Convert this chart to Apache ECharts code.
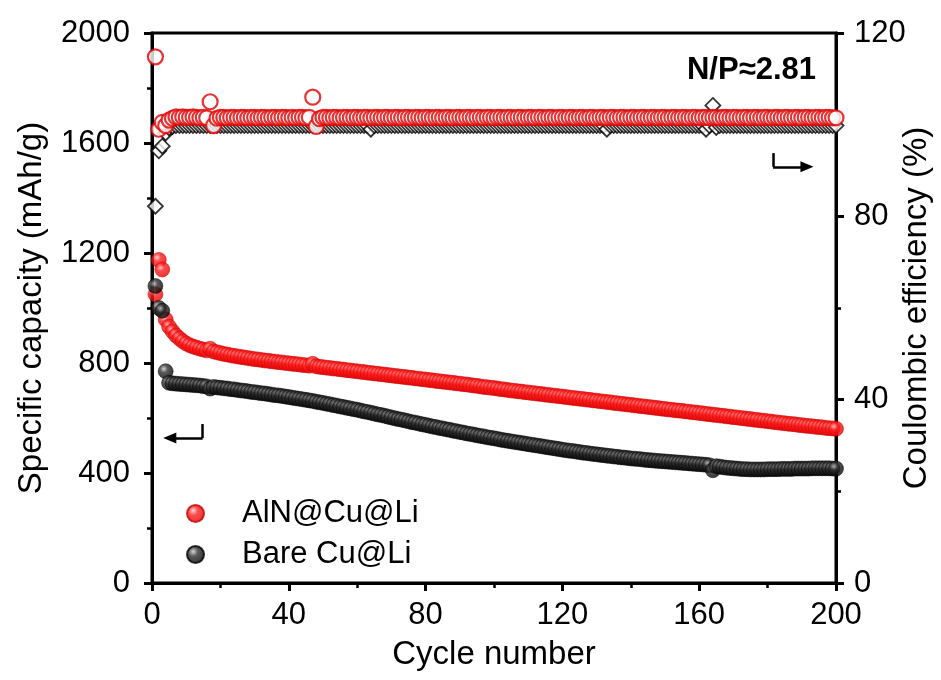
<!DOCTYPE html>
<html>
<head>
<meta charset="utf-8">
<title>AlN@Cu@Li vs Bare Cu@Li cycling</title>
<script src="https://cdn.jsdelivr.net/npm/echarts/dist/echarts.min.js"></script>
<style>
  html, body { margin: 0; padding: 0; background: #ffffff; }
  #chart { width: 941px; height: 680px; }
</style>
</head>
<body>
<div id="chart"></div>
<script>
// Specific capacity (mAh/g) per cycle, cycles 1..200
const alnCap = [
  1050, 1175, 1140, 958, 932, 915, 900, 889, 879, 871,
  865, 860, 856, 852, 849, 846, 852, 842, 839, 836,
  833, 831, 828, 826, 824, 822, 820, 818, 816, 814,
  813, 811, 809, 808, 806, 805, 803, 802, 800, 799,
  797, 796, 795, 793, 792, 790, 797, 788, 786, 785,
  783, 782, 780, 779, 777, 776, 774, 773, 771, 770,
  768, 767, 765, 764, 762, 761, 759, 758, 756, 755,
  753, 752, 750, 749, 747, 746, 744, 743, 741, 740,
  738, 737, 735, 734, 732, 731, 729, 728, 726, 725,
  723, 722, 720, 718, 717, 715, 713, 712, 710, 709,
  707, 705, 704, 702, 700, 699, 697, 696, 694, 693,
  691, 690, 688, 687, 685, 684, 682, 681, 679, 678,
  676, 675, 673, 672, 670, 669, 667, 666, 664, 663,
  661, 660, 658, 657, 655, 654, 652, 651, 649, 648,
  646, 645, 643, 642, 640, 639, 637, 636, 634, 633,
  631, 630, 628, 627, 626, 624, 623, 621, 620, 618,
  617, 615, 614, 612, 611, 609, 608, 606, 605, 603,
  602, 600, 599, 597, 596, 594, 593, 591, 590, 588,
  587, 585, 584, 582, 581, 579, 578, 577, 575, 574,
  572, 571, 570, 568, 567, 566, 564, 563, 562, 561
];
const bareCap = [
  1080, 1000, 990, 770, 728, 726, 725, 724, 723, 722,
  721, 720, 719, 718, 716, 715, 707, 713, 711, 710,
  708, 707, 705, 704, 702, 700, 699, 697, 695, 694,
  692, 690, 689, 687, 685, 683, 682, 680, 678, 676,
  674, 672, 670, 668, 666, 664, 662, 659, 657, 655,
  652, 650, 647, 645, 642, 640, 637, 635, 632, 630,
  627, 624, 622, 619, 616, 613, 611, 608, 605, 602,
  599, 596, 594, 591, 588, 585, 583, 580, 577, 575,
  572, 569, 567, 564, 562, 559, 557, 554, 552, 549,
  547, 544, 542, 540, 537, 535, 533, 530, 528, 526,
  524, 521, 519, 517, 515, 513, 511, 509, 507, 505,
  503, 501, 499, 497, 495, 493, 491, 489, 487, 485,
  483, 481, 480, 478, 476, 474, 473, 471, 469, 468,
  466, 465, 463, 462, 460, 459, 457, 456, 455, 453,
  452, 451, 450, 448, 447, 446, 445, 444, 443, 442,
  441, 440, 439, 438, 437, 436, 435, 434, 433, 432,
  431, 430, 428, 410, 425, 423, 421, 419, 418, 417,
  416, 415, 414, 414, 413, 413, 413, 413, 413, 414,
  414, 414, 414, 415, 415, 415, 415, 416, 416, 416,
  416, 416, 417, 417, 417, 417, 417, 417, 416, 416
];
// Coulombic efficiency (%) per cycle, cycles 1..200
const alnCE = [
  114.8, 99.0, 100.5, 99.8, 101.0, 101.4, 101.7, 101.6, 101.7, 101.6,
  101.6, 101.7, 101.6, 101.5, 101.6, 101.5, 105.0, 99.8, 101.4, 101.6,
  101.6, 101.5, 101.6, 101.6, 101.5, 101.6, 101.6, 101.5, 101.6, 101.6,
  101.5, 101.6, 101.6, 101.5, 101.6, 101.6, 101.5, 101.6, 101.6, 101.5,
  101.6, 101.5, 101.6, 101.6, 101.5, 101.6, 106.0, 99.6, 101.3, 101.6,
  101.6, 101.5, 101.6, 101.6, 101.5, 101.6, 101.6, 101.5, 101.6, 101.6,
  101.5, 101.6, 101.6, 101.5, 101.6, 101.6, 101.5, 101.6, 101.6, 101.5,
  101.6, 101.6, 101.5, 101.6, 101.6, 101.5, 101.6, 101.6, 101.5, 101.6,
  101.6, 101.5, 101.6, 101.6, 101.5, 101.6, 101.6, 101.5, 101.6, 101.6,
  101.5, 101.6, 101.6, 101.5, 101.6, 101.6, 101.5, 101.6, 101.6, 101.5,
  101.6, 101.6, 101.5, 101.6, 101.6, 101.5, 101.6, 101.6, 101.5, 101.6,
  101.6, 101.5, 101.6, 101.6, 101.5, 101.6, 101.6, 101.5, 101.6, 101.6,
  101.5, 101.6, 101.6, 101.5, 101.6, 101.6, 101.5, 101.6, 101.6, 101.5,
  101.6, 101.6, 101.5, 101.6, 101.6, 101.5, 101.6, 101.6, 101.5, 101.6,
  101.6, 101.5, 101.6, 101.6, 101.5, 101.6, 101.6, 101.5, 101.6, 101.6,
  101.5, 101.6, 101.6, 101.5, 101.6, 101.6, 101.5, 101.6, 101.6, 101.5,
  101.6, 101.6, 101.5, 101.6, 101.6, 101.5, 101.6, 101.6, 101.5, 101.6,
  101.6, 101.5, 101.6, 101.6, 101.5, 101.6, 101.6, 101.5, 101.6, 101.6,
  101.5, 101.6, 101.6, 101.5, 101.6, 101.6, 101.5, 101.6, 101.6, 101.5,
  101.6, 101.6, 101.5, 101.6, 101.6, 101.5, 101.6, 101.6, 101.5, 101.5
];
const bareCE = [
  82.2, 94.3, 95.3, 98.2, 99.3, 99.6, 99.8, 99.8, 99.8, 99.8,
  99.8, 99.8, 99.8, 99.8, 99.8, 99.8, 99.8, 99.8, 99.8, 99.8,
  99.8, 99.8, 99.8, 99.8, 99.8, 99.8, 99.8, 99.8, 99.8, 99.8,
  99.8, 99.8, 99.8, 99.8, 99.8, 99.8, 99.8, 99.8, 99.8, 99.8,
  99.8, 99.8, 99.8, 99.8, 99.8, 99.8, 99.8, 99.8, 99.8, 99.8,
  99.8, 99.8, 99.8, 99.8, 99.8, 99.8, 99.8, 99.8, 99.8, 99.8,
  99.8, 99.8, 99.8, 99.0, 99.8, 99.8, 99.8, 99.8, 99.8, 99.8,
  99.8, 99.8, 99.8, 99.8, 99.8, 99.8, 99.8, 99.8, 99.8, 99.8,
  99.8, 99.8, 99.8, 99.8, 99.8, 99.8, 99.8, 99.8, 99.8, 99.8,
  99.8, 99.8, 99.8, 99.8, 99.8, 99.8, 99.8, 99.8, 99.8, 99.8,
  99.8, 99.8, 99.8, 99.8, 99.8, 99.8, 99.8, 99.8, 99.8, 99.8,
  99.8, 99.8, 99.8, 99.8, 99.8, 99.8, 99.8, 99.8, 99.8, 99.8,
  99.8, 99.8, 99.8, 99.8, 99.8, 99.8, 99.8, 99.8, 99.8, 99.8,
  99.8, 99.8, 99.0, 99.8, 99.8, 99.8, 99.8, 99.8, 99.8, 99.8,
  99.8, 99.8, 99.8, 99.8, 99.8, 99.8, 99.8, 99.8, 99.8, 99.8,
  99.8, 99.8, 99.8, 99.8, 99.8, 99.8, 99.8, 99.8, 99.8, 99.8,
  99.8, 99.0, 99.8, 104.2, 99.4, 99.8, 99.8, 99.8, 99.8, 99.8,
  99.8, 99.8, 99.8, 99.8, 99.8, 99.8, 99.8, 99.8, 99.8, 99.8,
  99.8, 99.8, 99.8, 99.8, 99.8, 99.8, 99.8, 99.8, 99.8, 99.8,
  99.8, 99.8, 99.8, 99.8, 99.8, 99.8, 99.8, 99.8, 99.8, 99.8
];

// Axis ranges and ticks
const xTicks = { min: 0, max: 200, interval: 40 };
const capTicks = { min: 0, max: 2000, interval: 400 };
const ceTicks = { min: 0, max: 120, interval: 40 };

// Bent pointer arrows telling which axis each group belongs to (data units)
const capArrow = { corner: [14.8, 527], top: [14.8, 578], tip: [5.2, 527] };
const ceArrow = { corner: [181.6, 90.8], top: [181.6, 93.8], tip: [191.5, 90.8] };

const FONT = 'Liberation Sans';
const withCycle = arr => arr.map((v, i) => [i + 1, v]);
const plainNumber = v => String(v);

const redBall = {
  type: 'radial', x: 0.38, y: 0.35, r: 0.7,
  colorStops: [
    { offset: 0, color: '#ffd0d0' },
    { offset: 0.35, color: '#ff2020' },
    { offset: 1, color: '#e00000' }
  ]
};
const blackBall = {
  type: 'radial', x: 0.38, y: 0.35, r: 0.7,
  colorStops: [
    { offset: 0, color: '#c8c8c8' },
    { offset: 0.35, color: '#303030' },
    { offset: 1, color: '#000000' }
  ]
};

const axisCommon = {
  axisLine: { show: true, lineStyle: { color: '#000', width: 3 } },
  axisTick: { show: true, inside: false, length: 8, lineStyle: { color: '#000', width: 3 } },
  minorTick: { show: true, splitNumber: 2, length: 5, lineStyle: { color: '#000', width: 2.5 } },
  splitLine: { show: false },
  nameMoveOverlap: false,
  nameTextStyle: { fontFamily: FONT, fontSize: 33, color: '#000' }
};
const tickLabel = (margin) => ({
  fontFamily: FONT, fontSize: 31, color: '#000', margin: margin, formatter: plainNumber
});

const chart = echarts.init(document.getElementById('chart'), null, { renderer: 'canvas' });

chart.setOption({
  animation: false,
  backgroundColor: '#ffffff',
  grid: {
    left: 152, right: 105, top: 33, bottom: 97,
    containLabel: false, outerBoundsMode: 'none',
    show: true, borderColor: '#000', borderWidth: 3, backgroundColor: 'transparent'
  },
  legend: {
    data: ['AlN@Cu@Li', 'Bare Cu@Li'],
    orient: 'vertical',
    left: 181, top: 493,
    itemWidth: 83, itemHeight: 17,
    itemGap: 10,
    icon: 'circle',
    textStyle: { fontFamily: FONT, fontSize: 31, color: '#000' }
  },
  xAxis: Object.assign({}, axisCommon, {
    type: 'value',
    min: xTicks.min, max: xTicks.max, interval: xTicks.interval,
    name: 'Cycle number', nameLocation: 'middle', nameGap: 55,
    axisLabel: tickLabel(17)
  }),
  yAxis: [
    Object.assign({}, axisCommon, {
      type: 'value', position: 'left',
      min: capTicks.min, max: capTicks.max, interval: capTicks.interval,
      name: 'Specific capacity (mAh/g)', nameLocation: 'middle', nameRotate: 90, nameGap: 104,
      axisLabel: tickLabel(22)
    }),
    Object.assign({}, axisCommon, {
      type: 'value', position: 'right',
      min: ceTicks.min, max: ceTicks.max, interval: ceTicks.interval,
      name: 'Coulombic efficiency (%)', nameLocation: 'middle', nameRotate: 90, nameGap: 64,
      axisLabel: tickLabel(18)
    })
  ],
  graphic: [{
    type: 'text', right: 125, top: 55, z: 100,
    style: { text: 'N/P≈2.81', font: 'bold 31px "' + FONT + '"', fill: '#000' }
  }],
  series: [
    {
      name: 'Bare Cu@Li CE', type: 'scatter', yAxisIndex: 1,
      symbol: 'diamond', symbolSize: [15, 15],
      itemStyle: { color: '#ffffff', borderColor: '#000', borderWidth: 1.8 },
      data: withCycle(bareCE),
      markLine: {
        silent: true, symbol: ['none', 'none'], label: { show: false },
        lineStyle: { color: '#000', width: 2.5, type: 'solid' },
        data: [
          [{ coord: ceArrow.top }, { coord: ceArrow.corner }],
          [{ coord: ceArrow.corner, symbol: 'none' }, { coord: ceArrow.tip, symbol: 'triangle', symbolSize: [11, 13], symbolRotate: -90 }]
        ]
      }
    },
    {
      name: 'AlN@Cu@Li CE', type: 'scatter', yAxisIndex: 1,
      symbol: 'circle', symbolSize: 15,
      itemStyle: { color: '#ffffff', borderColor: '#e00000', borderWidth: 2.2 },
      data: withCycle(alnCE)
    },
    {
      name: 'AlN@Cu@Li', type: 'scatter', yAxisIndex: 0,
      symbol: 'circle', symbolSize: 15,
      itemStyle: { color: redBall, borderColor: '#c80000', borderWidth: 0.6 },
      data: withCycle(alnCap)
    },
    {
      name: 'Bare Cu@Li', type: 'scatter', yAxisIndex: 0,
      symbol: 'circle', symbolSize: 15,
      itemStyle: { color: blackBall, borderColor: '#000', borderWidth: 0.6 },
      data: withCycle(bareCap),
      markLine: {
        silent: true, symbol: ['none', 'none'], label: { show: false },
        lineStyle: { color: '#000', width: 2.5, type: 'solid' },
        data: [
          [{ coord: capArrow.top }, { coord: capArrow.corner }],
          [{ coord: capArrow.corner, symbol: 'none' }, { coord: capArrow.tip, symbol: 'triangle', symbolSize: [11, 13], symbolRotate: 90 }]
        ]
      }
    }
  ]
});
</script>
</body>
</html>
